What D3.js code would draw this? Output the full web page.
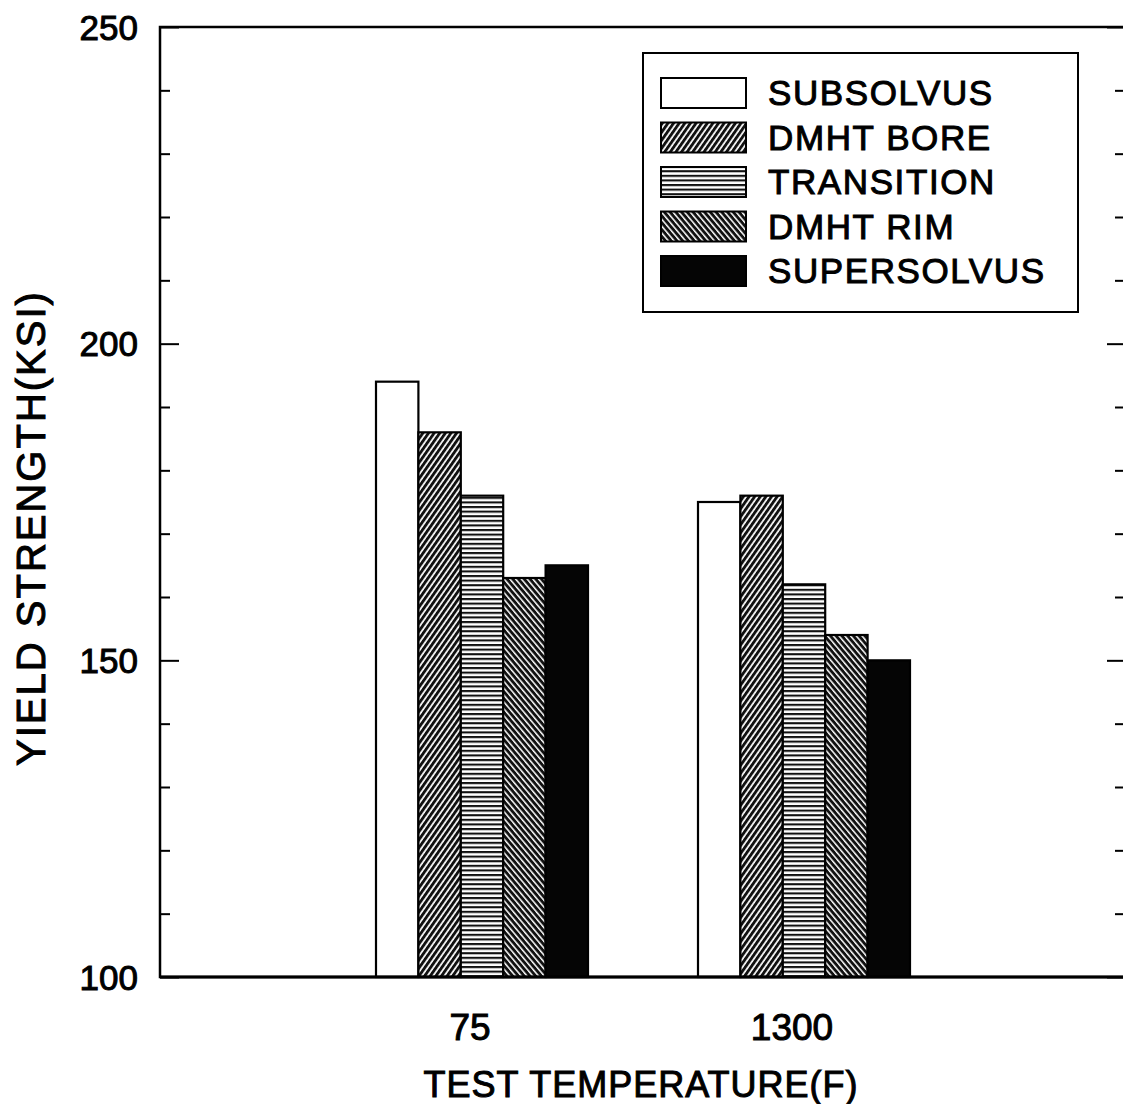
<!DOCTYPE html>
<html>
<head>
<meta charset="utf-8">
<script src="https://cdn.jsdelivr.net/npm/d3@7"></script>
<style>
  html, body { margin: 0; padding: 0; background: #fff; }
  svg { display: block; }
  text { font-family: "Liberation Sans", Arial, sans-serif; fill: #000; }
</style>
</head>
<body>
<svg id="chart" width="1123" height="1104"></svg>
<script>
// ---- data ----
const categories = ["75", "1300"];
const series = ["SUBSOLVUS", "DMHT BORE", "TRANSITION", "DMHT RIM", "SUPERSOLVUS"];
const subsolvus   = [194, 175];
const dmhtBore    = [186, 176];
const transition  = [176, 162];
const dmhtRim     = [163, 154];
const supersolvus = [165, 150];
const yMajorTicks = [100, 150, 200, 250];
const yMinorTicks = [110, 120, 130, 140, 160, 170, 180, 190, 210, 220, 230, 240];
const yTitle = "YIELD STRENGTH(KSI)";
const xTitle = "TEST TEMPERATURE(F)";

const values = [subsolvus, dmhtBore, transition, dmhtRim, supersolvus];

// ---- layout ----
const svg = d3.select("#chart");
const pL = 160, pR = 1126, pT = 27, pB = 977;

const y = d3.scaleLinear().domain([100, 250]).range([pB, pT]);
const x = d3.scaleLinear().domain([0, 3]).range([pL, pR]);
const sub = d3.scaleBand().domain(series).range([-106, 106]).padding(0);

// ---- patterns ----
const defs = svg.append("defs");
function linePattern(id, angle, spacing, width) {
  const p = defs.append("pattern").attr("id", id)
    .attr("patternUnits", "userSpaceOnUse")
    .attr("width", spacing).attr("height", spacing)
    .attr("patternTransform", `rotate(${angle})`);
  p.append("rect").attr("width", spacing).attr("height", spacing).attr("fill", "#fff");
  p.append("rect").attr("x", 0).attr("y", 0).attr("width", spacing).attr("height", width).attr("fill", "#111");
}
linePattern("pBore", -55, 4.6, 2.9);
linePattern("pTrans", 0, 4.6, 2.1);
linePattern("pRim", 50, 4.4, 2.9);
const fills = ["#fff", "url(#pBore)", "url(#pTrans)", "url(#pRim)", "#050505"];

// ---- bars ----
const g = svg.append("g");
series.forEach((s, si) => {
  g.selectAll(null).data(categories).enter().append("rect")
    .attr("x", (c, ci) => x(ci + 1) + sub(s))
    .attr("y", (c, ci) => y(values[si][ci]))
    .attr("width", sub.bandwidth())
    .attr("height", (c, ci) => y(100) - y(values[si][ci]))
    .attr("fill", fills[si])
    .attr("stroke", "#000")
    .attr("stroke-width", 2.2);
});

// ---- axes ----
const axisStyle = sel => {
  sel.select(".domain").remove();
  sel.selectAll("line").attr("stroke", "#000").attr("stroke-width", 2);
};
svg.append("g").attr("transform", `translate(${pL},0)`)
  .call(d3.axisRight(y).tickValues(yMajorTicks).tickSize(19).tickFormat(""))
  .call(axisStyle);
svg.append("g").attr("transform", `translate(${pL},0)`)
  .call(d3.axisRight(y).tickValues(yMinorTicks).tickSize(10).tickFormat(""))
  .call(axisStyle);
svg.append("g").selectAll("text").data(yMajorTicks).enter().append("text")
  .attr("x", pL - 22).attr("y", d => y(d)).attr("dy", "0.36em")
  .attr("text-anchor", "end").attr("font-size", 35).attr("stroke", "#000").attr("stroke-width", 1)
  .text(d => d);
svg.append("g").attr("transform", `translate(${pR - 2},0)`)
  .call(d3.axisLeft(y).tickValues(yMajorTicks).tickSize(17).tickFormat(""))
  .call(axisStyle);
svg.append("g").attr("transform", `translate(${pR - 2},0)`)
  .call(d3.axisLeft(y).tickValues(yMinorTicks).tickSize(9).tickFormat(""))
  .call(axisStyle);
svg.append("g").selectAll("text").data(categories).enter().append("text")
  .attr("x", (c, i) => x(i + 1)).attr("dx", -12).attr("y", 1040)
  .attr("text-anchor", "middle").attr("font-size", 37).attr("stroke", "#000").attr("stroke-width", 1)
  .text(d => d);

// frame
svg.append("rect").attr("x", pL).attr("y", pT)
  .attr("width", pR - pL + 4).attr("height", pB - pT)
  .attr("fill", "none").attr("stroke", "#000").attr("stroke-width", 2.5);
svg.append("line").attr("x1", pL).attr("x2", pR).attr("y1", pB).attr("y2", pB)
  .attr("stroke", "#000").attr("stroke-width", 3.2);

// titles
svg.append("text").attr("x", x(1.5)).attr("dx", -2).attr("y", 1097)
  .attr("text-anchor", "middle").attr("font-size", 36).attr("letter-spacing", 1)
  .attr("stroke", "#000").attr("stroke-width", 1)
  .text(xTitle);
svg.append("text").attr("transform", `translate(45,${(pT + pB) / 2 + 26}) rotate(-90)`)
  .attr("text-anchor", "middle").attr("font-size", 40).attr("letter-spacing", 2)
  .attr("stroke", "#000").attr("stroke-width", 1)
  .text(yTitle);

// ---- legend ----
const leg = svg.append("g");
leg.append("rect").attr("x", 643).attr("y", 53).attr("width", 435).attr("height", 259)
  .attr("fill", "#fff").attr("stroke", "#000").attr("stroke-width", 2);
const rowY = d3.scalePoint().domain(series).range([78, 256]);
series.forEach((s, i) => {
  leg.append("rect").attr("x", 661).attr("y", rowY(s)).attr("width", 85).attr("height", 30)
    .attr("fill", fills[i]).attr("stroke", "#000").attr("stroke-width", 2);
  leg.append("text").attr("x", 768).attr("y", rowY(s) + 27)
    .attr("font-size", 35).attr("letter-spacing", 1.6)
    .attr("stroke", "#000").attr("stroke-width", 1)
    .text(s);
});
</script>
</body>
</html>
